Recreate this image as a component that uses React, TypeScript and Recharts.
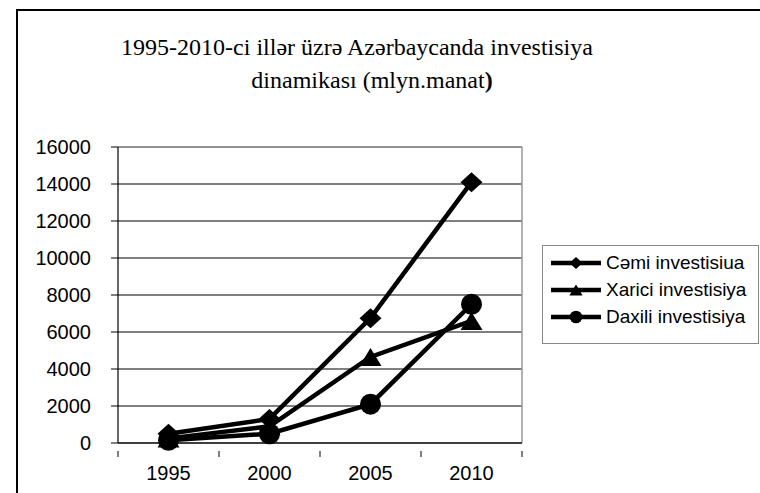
import React from 'react';
import { LineChart, Line, XAxis, YAxis, CartesianGrid, ReferenceLine } from 'recharts';

const years = ['1995', '2000', '2005', '2010'];
const cemi = [500, 1300, 6750, 14100];
const xarici = [250, 900, 4650, 6600];
const daxili = [150, 500, 2100, 7500];
const yTicks = [0, 2000, 4000, 6000, 8000, 10000, 12000, 14000, 16000];

const SERIES = [
  { key: 'cemi', name: 'Cəmi investisiua', shape: 'diamond' },
  { key: 'xarici', name: 'Xarici investisiya', shape: 'triangle' },
  { key: 'daxili', name: 'Daxili investisiya', shape: 'circle' },
];

const data = years.map((year, i) => ({
  year,
  cemi: cemi[i],
  xarici: xarici[i],
  daxili: daxili[i],
}));

const W = 760;
const H = 493;
const PLOT_LEFT = 118;
const PLOT_RIGHT = 522;
const BAND_HALF = (PLOT_RIGHT - PLOT_LEFT) / years.length / 2;
const SANS = '"Liberation Sans", Arial, sans-serif';
const SERIF = '"Liberation Serif", "DejaVu Serif", serif';

const Marker = ({ cx, cy, shape, s = 1 }: any) => {
  if (cx == null || cy == null) return null;
  if (shape === 'diamond') {
    const w = 11 * s, h = 10 * s;
    return <polygon points={`${cx},${cy - h} ${cx + w},${cy} ${cx},${cy + h} ${cx - w},${cy}`} fill="#000" />;
  }
  if (shape === 'triangle') {
    const w = 11 * s, h = 9 * s;
    return <polygon points={`${cx},${cy - h} ${cx + w},${cy + h} ${cx - w},${cy + h}`} fill="#000" />;
  }
  return <circle cx={cx} cy={cy} r={10.5 * s} fill="#000" />;
};

const XTick = ({ x, y, payload, index }: any) => (
  <g>
    <line x1={x - BAND_HALF} y1={y} x2={x - BAND_HALF} y2={y + 6} stroke="#000" />
    {index === years.length - 1 && (
      <line x1={x + BAND_HALF} y1={y} x2={x + BAND_HALF} y2={y + 6} stroke="#000" />
    )}
    <text x={x} y={y + 29} textAnchor="middle" style={{ fontSize: 20, fontFamily: SANS }} fill="#000">
      {payload.value}
    </text>
  </g>
);

const LegendBox = () => (
  <div style={{ border: '1px solid #888', width: 217, height: 99, boxSizing: 'border-box', padding: '3px 0 0 7px', background: '#fff' }}>
    {SERIES.map((s) => (
      <div key={s.key} style={{ display: 'flex', alignItems: 'center', height: 27, fontFamily: SANS, fontSize: 19, color: '#000', whiteSpace: 'nowrap' }}>
        <svg width={52} height={20} style={{ marginRight: 4, flex: 'none' }}>
          <line x1={1} y1={10} x2={51} y2={10} stroke="#000" strokeWidth={4.5} />
          <Marker cx={26} cy={10} shape={s.shape} s={0.6} />
        </svg>
        <span>{s.name}</span>
      </div>
    ))}
  </div>
);

const App: React.FC = () => {
  return (
    <div style={{ position: 'absolute', left: 0, top: 0, width: W, height: H, background: '#fff', overflow: 'hidden' }}>
      <div style={{ position: 'absolute', left: 16, top: 9, width: W, height: H, borderLeft: '2px solid #000', borderTop: '2px solid #000' }} />
      <svg style={{ position: 'absolute', left: 0, top: 0 }} width={W} height={110}>
        <text x={357} y={55} textAnchor="middle" style={{ fontFamily: SERIF, fontSize: 24 }} fill="#000">
          1995-2010-ci illər üzrə Azərbaycanda investisiya
        </text>
        <text x={372} y={88} textAnchor="middle" style={{ fontFamily: SERIF, fontSize: 24 }} fill="#000">
          dinamikası (mlyn.manat<tspan fontWeight="bold">)</tspan>
        </text>
      </svg>
      <div style={{ position: 'absolute', left: 0, top: 0 }}>
        <LineChart width={W} height={H} data={data} margin={{ top: 147, right: W - PLOT_RIGHT, bottom: 0, left: 0 }}>
          <CartesianGrid vertical={false} stroke="#000" strokeWidth={1.2} />
          <CartesianGrid horizontal={false} verticalPoints={[PLOT_RIGHT]} stroke="#999" strokeWidth={1.5} />
          <ReferenceLine y={16000} stroke="#999" strokeWidth={1.5} />
          <XAxis
            dataKey="year"
            scale="band"
            axisLine={{ stroke: '#000', strokeWidth: 1.2 }}
            tickLine={false}
            tick={<XTick />}
            interval={0}
            height={50}
          />
          <YAxis
            domain={[0, 16000]}
            ticks={yTicks}
            interval={0}
            width={PLOT_LEFT}
            axisLine={{ stroke: '#000', strokeWidth: 1.2 }}
            tickLine={{ stroke: '#000' }}
            tickSize={7}
            tickMargin={20}
            tick={{ fontSize: 20, fontFamily: SANS, fill: '#000' }}
          />
          {SERIES.map((s) => (
            <Line
              key={s.key}
              dataKey={s.key}
              name={s.name}
              type="linear"
              stroke="#000"
              strokeWidth={4.5}
              dot={(p: any) => <Marker key={`${s.key}-${p.index}`} cx={p.cx} cy={p.cy} shape={s.shape} />}
              activeDot={false}
              isAnimationActive={false}
            />
          ))}
        </LineChart>
      </div>
      <div style={{ position: 'absolute', left: 542, top: 245 }}>
        <LegendBox />
      </div>
    </div>
  );
};

export default App;
